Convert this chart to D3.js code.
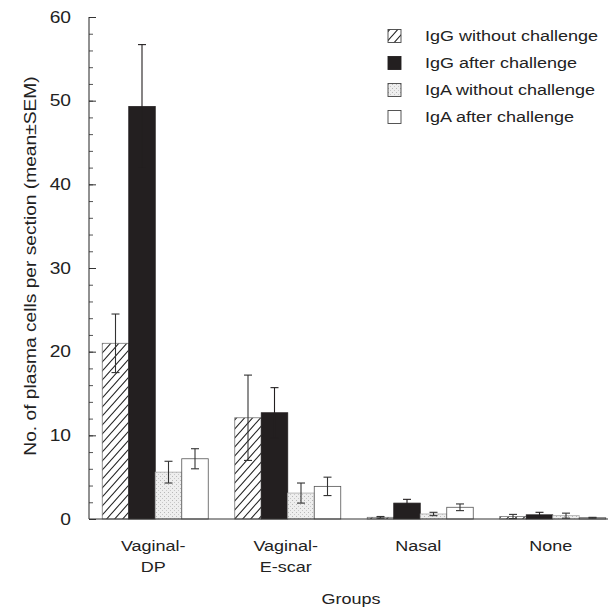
<!DOCTYPE html>
<html>
<head>
<meta charset="utf-8">
<script src="https://cdn.jsdelivr.net/npm/d3@7"></script>
<style>
  html, body { margin: 0; padding: 0; background: #fff; }
  text { font-family: "Liberation Sans", Arial, Helvetica, sans-serif; fill: #222; }
</style>
</head>
<body>
<svg id="chart" width="616" height="607"></svg>
<script>
// ---- data ----
const groups = ["Vaginal-DP", "Vaginal-E-scar", "Nasal", "None"];
const groupLabels = [["Vaginal-", "DP"], ["Vaginal-", "E-scar"], ["Nasal"], ["None"]];
const seriesNames = ["IgG without challenge", "IgG after challenge", "IgA without challenge", "IgA after challenge"];
const igGWithout = [21.0, 12.1, 0.2, 0.3];
const igGWithoutErr = [3.5, 5.1, 0.1, 0.25];
const igGAfter = [49.3, 12.7, 1.9, 0.5];
const igGAfterErr = [7.4, 3.0, 0.45, 0.3];
const igAWithout = [5.6, 3.1, 0.6, 0.4];
const igAWithoutErr = [1.3, 1.2, 0.2, 0.3];
const igAAfter = [7.2, 3.9, 1.4, 0.15];
const igAAfterErr = [1.2, 1.1, 0.4, 0.05];
const yTicks = [0, 10, 20, 30, 40, 50, 60];
const yMinorTicks = d3.range(0, 61, 2);

const seriesVals = [igGWithout, igGAfter, igAWithout, igAAfter];
const seriesErrs = [igGWithoutErr, igGAfterErr, igAWithoutErr, igAAfterErr];

const SX = 1.2; // horizontal stretch of the reference typeface

const svg = d3.select("#chart");
const defs = svg.append("defs");

function label(x, y, txt, size, anchor, rot) {
  return svg.append("text")
    .attr("transform", `translate(${x},${y})` + (rot ? ` rotate(${rot})` : "") + ` scale(${SX},1)`)
    .attr("text-anchor", anchor).attr("font-size", size).text(txt);
}

// hatch pattern
const hatch = defs.append("pattern").attr("id", "hatch")
  .attr("patternUnits", "userSpaceOnUse").attr("width", 8).attr("height", 9);
hatch.append("rect").attr("width", 8).attr("height", 9).attr("fill", "#fff");
hatch.append("path").attr("d", "M-2,2.25 L2,-2.25 M0,9 L8,0 M6,11.25 L10,6.75")
  .attr("stroke", "#222").attr("stroke-width", 1.1);

// stipple pattern
const dots = defs.append("pattern").attr("id", "dots")
  .attr("patternUnits", "userSpaceOnUse").attr("width", 4).attr("height", 4);
dots.append("rect").attr("width", 4).attr("height", 4).attr("fill", "#eeeeee");
dots.append("rect").attr("x", 0).attr("y", 0).attr("width", 1).attr("height", 1).attr("fill", "#b8b8b8");
dots.append("rect").attr("x", 2).attr("y", 2).attr("width", 1).attr("height", 1).attr("fill", "#c8c8c8");

const fills = ["url(#hatch)", "#231f20", "url(#dots)", "#ffffff"];
const strokes = ["#777", "#231f20", "#aaa", "#555"];

// ---- scales ----
const x0 = d3.scaleBand().domain(groups).range([89, 619]).paddingInner(0).paddingOuter(0);
const x1 = d3.scaleBand().domain(d3.range(4)).range([0, x0.bandwidth()]).paddingInner(0).paddingOuter(0.5);
const y = d3.scaleLinear().domain([0, 60]).range([519, 17]);

// ---- bars ----
groups.forEach((g, gi) => {
  for (let s = 0; s < 4; s++) {
    const v = seriesVals[s][gi];
    const xx = x0(g) + x1(s);
    svg.append("rect")
      .attr("x", xx).attr("y", y(v))
      .attr("width", x1.bandwidth()).attr("height", y(0) - y(v))
      .attr("fill", fills[s]).attr("stroke", strokes[s]).attr("stroke-width", 0.8);
  }
});

// ---- error bars ----
groups.forEach((g, gi) => {
  for (let s = 0; s < 4; s++) {
    const v = seriesVals[s][gi], e = seriesErrs[s][gi];
    const cx = x0(g) + x1(s) + x1.bandwidth() / 2;
    const c = s === 1 ? "#231f20" : "#333";
    svg.append("line").attr("x1", cx).attr("x2", cx)
      .attr("y1", y(Math.max(0, v - e))).attr("y2", y(v + e))
      .attr("stroke", c).attr("stroke-width", 1.1);
    [v + e, Math.max(0, v - e)].forEach(t => {
      svg.append("line").attr("x1", cx - 4).attr("x2", cx + 4)
        .attr("y1", y(t)).attr("y2", y(t))
        .attr("stroke", c).attr("stroke-width", 1.1);
    });
  }
});

// ---- axes ----
const yAxisMinor = d3.axisRight(y).tickValues(yMinorTicks).tickSize(4).tickFormat("");
const gMinor = svg.append("g").attr("transform", "translate(89,0)").call(yAxisMinor);
gMinor.select(".domain").remove();
gMinor.selectAll("line").attr("stroke", "#555");

const yAxis = d3.axisRight(y).tickValues(yTicks).tickSize(7).tickFormat("");
const gY = svg.append("g").attr("transform", "translate(89,0)").call(yAxis);
gY.select(".domain").remove();
gY.selectAll("line").attr("stroke", "#333");

svg.append("line").attr("x1", 89).attr("x2", 89).attr("y1", y(60)).attr("y2", y(0))
  .attr("stroke", "#222").attr("stroke-width", 1);

// tick labels
yTicks.forEach(d => label(71, y(d) + 5.5, d, 16, "end"));

// x axis baseline
svg.append("line").attr("x1", 89).attr("x2", 608).attr("y1", y(0)).attr("y2", y(0))
  .attr("stroke", "#333").attr("stroke-width", 1);

// x labels
groups.forEach((g, gi) => {
  const cx = x0(g) + x0.bandwidth() / 2 - 2;
  groupLabels[gi].forEach((ln, li) => label(cx, 551 + li * 21, ln, 15, "middle"));
});

label(351, 604, "Groups", 15, "middle");

label(36, 266, "No. of plasma cells per section (mean\u00B1SEM)", 16, "middle", -90);

// ---- legend ----
seriesNames.forEach((n, i) => {
  const cy = 36 + i * 27;
  svg.append("rect").attr("x", 388).attr("y", cy - 6.5).attr("width", 13).attr("height", 13)
    .attr("fill", fills[i]).attr("stroke", i === 1 ? "#231f20" : "#444").attr("stroke-width", 0.9);
  label(425, cy + 5.3, n, 15, "start");
});
</script>
</body>
</html>
